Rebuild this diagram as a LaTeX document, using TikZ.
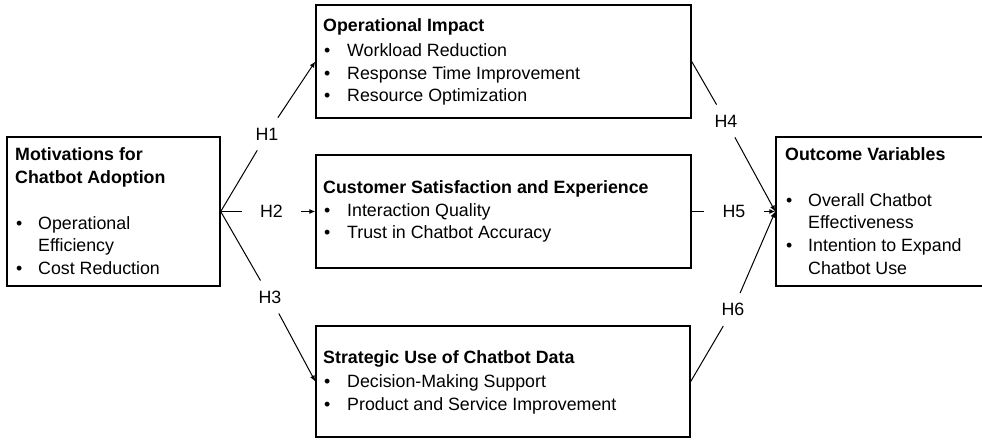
\documentclass[tikz,border=0pt]{standalone}
\usepackage{fontspec}
\setmainfont{Liberation Sans}
\usetikzlibrary{arrows.meta}
\begin{document}
\begin{tikzpicture}[x=1pt,y=-1pt,
 box/.style={draw=black,line width=1.4pt,inner sep=0pt},
 txt/.style={anchor=base west,inner sep=0pt,font=\fontsize{17.8}{22}\selectfont},
 ttl/.style={anchor=base west,inner sep=0pt,font=\fontsize{17.8}{22}\selectfont\bfseries},
 hyp/.style={inner xsep=18pt,inner ysep=10pt,font=\fontsize{17.8}{22}\selectfont},
 link/.style={line width=1pt,black},
 arr/.style={link,-{Latex[length=6pt,width=5pt]}}]
\useasboundingbox (0,0) rectangle (982,439);

% boxes
\node[box,minimum width=213pt,minimum height=149pt] (L) at (113.5,211.5) {};
\node[box,minimum width=375pt,minimum height=113pt] (T) at (503.5,61.5) {};
\node[box,minimum width=375pt,minimum height=113pt] (M) at (503.5,211.5) {};
\node[box,minimum width=374pt,minimum height=111pt] (B) at (503,381.5) {};
\node[box,minimum width=207pt,minimum height=149pt] (R) at (879.5,211.5) {};

% left box text
\node[ttl] (l1) at (15,160.7) {Motivations for};
\node[ttl] (l2) at (15,183) {Chatbot Adoption};
\node[txt] (lb1) at (16,229) {\textbullet};
\node[txt] (lt1) at (38,229) {Operational};
\node[txt] (lt1b) at (38,251.7) {Efficiency};
\node[txt] (lb2) at (16,274) {\textbullet};
\node[txt] (lt2) at (38,274) {Cost Reduction};

% top box text
\node[ttl] (t0) at (323,31.7) {Operational Impact};
\node[txt] (tb1) at (324,56.7) {\textbullet};
\node[txt] (tt1) at (347,56.7) {Workload Reduction};
\node[txt] (tb2) at (324,79) {\textbullet};
\node[txt] (tt2) at (347,79) {Response Time Improvement};
\node[txt] (tb3) at (324,101.7) {\textbullet};
\node[txt] (tt3) at (347,101.7) {Resource Optimization};

% middle box text
\node[ttl] (m0) at (323,193) {Customer Satisfaction and Experience};
\node[txt] (mb1) at (324,216.7) {\textbullet};
\node[txt] (mt1) at (347,216.7) {Interaction Quality};
\node[txt] (mb2) at (324,238.5) {\textbullet};
\node[txt] (mt2) at (347,238.5) {Trust in Chatbot Accuracy};

% bottom box text
\node[ttl] (b0) at (323,363) {Strategic Use of Chatbot Data};
\node[txt] (bb1) at (324,387) {\textbullet};
\node[txt] (bt1) at (347,387) {Decision-Making Support};
\node[txt] (bb2) at (324,410) {\textbullet};
\node[txt] (bt2) at (347,410) {Product and Service Improvement};

% right box text
\node[ttl] (r0) at (785,160) {Outcome Variables};
\node[txt] (rb1) at (786,206) {\textbullet};
\node[txt] (rt1) at (808,206) {Overall Chatbot};
\node[txt] (rt1b) at (808,228.5) {Effectiveness};
\node[txt] (rb2) at (786,251.7) {\textbullet};
\node[txt] (rt2) at (808,251.7) {Intention to Expand};
\node[txt] (rt2b) at (808,274) {Chatbot Use};

% hypothesis labels
\node[hyp] (h1) at (267,134) {H1};
\node[hyp] (h2) at (271.5,211.5) {H2};
\node[hyp] (h3) at (270,297) {H3};
\node[hyp] (h4) at (726,121) {H4};
\node[hyp] (h5) at (734,211.5) {H5};
\node[hyp] (h6) at (733,309.5) {H6};

% connectors
\draw[link] (L.east) -- (h1);
\draw[arr] (h1) -- (T.west);
\draw[link] (L.east) -- (h2);
\draw[arr] (h2) -- (M.west);
\draw[link] (L.east) -- (h3);
\draw[arr] (h3) -- (B.west);
\draw[link] (T.east) -- (h4);
\draw[arr] (h4) -- (R.west);
\draw[link] (M.east) -- (h5);
\draw[arr] (h5) -- (R.west);
\draw[link] (B.east) -- (h6);
\draw[arr] (h6) -- (R.west);
\end{tikzpicture}
\end{document}
